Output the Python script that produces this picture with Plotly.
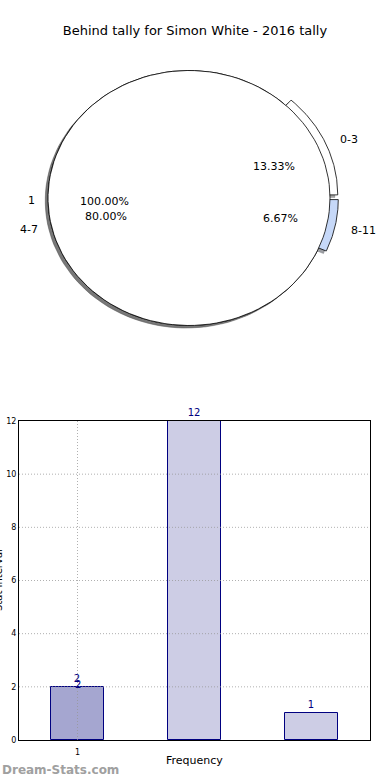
import numpy as np
import plotly.graph_objects as go

# ---------------- data ----------------
title_text = "Behind tally for Simon White - 2016 tally"

pie_labels = ["0-3", "4-7", "8-11"]
pie_values = [2, 12, 1]
pie_colors = ["#ffffff", "#ffffff", "#c6d8f8"]
pie_explode = [0.06, 0.0, 0.06]

top_labels = ["1"]
top_values = [1]
top_colors = ["#ffffff"]

bar_x = [0, 1, 2]
bar_values = [2, 12, 1]
bar_colors = ["#a5a6d0", "#cdcde5", "#cdcde5"]
bar_tick_vals = [0]
bar_tick_text = ["1"]
extra_bar_labels_x = [0]
extra_bar_labels_y = [2]

y_ticks = [0, 2, 4, 6, 8, 10, 12]

W, H = 390, 780
FONT = "DejaVu Sans"

fig = go.Figure()


def wedge_pts(t1, t2, cx, cy, r=1.0, n=120):
    t = np.radians(np.linspace(t1, t2, n))
    xs = cx + r * np.cos(t)
    ys = cy + r * np.sin(t)
    if t2 - t1 < 359.999:
        xs = np.concatenate([[cx], xs, [cx]])
        ys = np.concatenate([[cy], ys, [cy]])
    return xs, ys


def pie_geometry(values, explode):
    total = float(sum(values))
    out = []
    a = 0.0
    for v, e in zip(values, explode):
        span = 360.0 * v / total
        mid = np.radians(a + span / 2)
        cx, cy = e * np.cos(mid), e * np.sin(mid)
        out.append((a, a + span, cx, cy, mid, 100.0 * v / total))
        a += span
    return out


geo1 = pie_geometry(pie_values, pie_explode)
geo2 = pie_geometry(top_values, [0.0] * len(top_values))

common = dict(xaxis="x2", yaxis="y2", mode="lines", fill="toself",
              hoverinfo="skip", showlegend=False)


def shadow_color(hexc):
    h = hexc.lstrip("#")
    r, g, b = (int(h[i:i + 2], 16) for i in (0, 2, 4))
    return f"rgba({int(r*0.3)},{int(g*0.3)},{int(b*0.3)},0.5)"


# shadows (drawn beneath all wedges)
for (t1, t2, cx, cy, mid, pct), col in list(zip(geo1, pie_colors)) + list(zip(geo2, top_colors)):
    xs, ys = wedge_pts(t1, t2, cx - 0.02, cy - 0.02)
    sc = shadow_color(col)
    fig.add_trace(go.Scatter(x=xs, y=ys, fillcolor=sc,
                             line=dict(color=sc, width=0.5), **common))

# wedges
for (t1, t2, cx, cy, mid, pct), col in list(zip(geo1, pie_colors)) + list(zip(geo2, top_colors)):
    xs, ys = wedge_pts(t1, t2, cx, cy)
    fig.add_trace(go.Scatter(x=xs, y=ys, fillcolor=col,
                             line=dict(color="#000000", width=0.8), **common))

# pie labels
annotations = []
for geo, labels in ((geo1, pie_labels), (geo2, top_labels)):
    for (t1, t2, cx, cy, mid, pct), lab in zip(geo, labels):
        lx = cx + 1.1 * np.cos(mid)
        ly = cy + 1.1 * np.sin(mid)
        right_side = np.cos(mid) > 0
        annotations.append(dict(x=lx, y=ly, xref="x2", yref="y2", text=lab,
                                showarrow=False,
                                xanchor="left" if right_side else "right",
                                xshift=0 if right_side else 3,
                                yanchor="middle", yshift=-2,
                                font=dict(family=FONT, size=11, color="#000000")))
        px = cx + 0.6 * np.cos(mid)
        py = cy + 0.6 * np.sin(mid)
        annotations.append(dict(x=px, y=py, xref="x2", yref="y2", text=f"{pct:.2f}%",
                                showarrow=False, xanchor="center", yanchor="middle",
                                yshift=-3,
                                font=dict(family=FONT, size=11, color="#000000")))

# ---------------- bars ----------------
fig.add_trace(go.Bar(x=bar_x, y=bar_values, width=0.45,
                     marker=dict(color=bar_colors, line=dict(color="#000080", width=1)),
                     text=[str(v) for v in bar_values], textposition="outside",
                     textfont=dict(family=FONT, size=10, color="#000080"),
                     cliponaxis=False, showlegend=False, hoverinfo="skip",
                     xaxis="x", yaxis="y"))

for ex, ey in zip(extra_bar_labels_x, extra_bar_labels_y):
    annotations.append(dict(x=ex, y=ey, xref="x", yref="y", text=str(ey), showarrow=False,
                            yanchor="bottom", yshift=-5,
                            font=dict(family=FONT, size=10, color="#000080")))

# axis titles / watermark
annotations.append(dict(x=194 / W, y=1 - 760 / H, xref="paper", yref="paper", text="Frequency",
                        showarrow=False, xanchor="center", yanchor="middle",
                        font=dict(family=FONT, size=11, color="#000000")))
annotations.append(dict(x=-2 / W, y=1 - 580 / H, xref="paper", yref="paper", text="Stat Interval",
                        showarrow=False, xanchor="center", yanchor="middle", textangle=-90,
                        font=dict(family=FONT, size=10, color="#000000")))
annotations.append(dict(x=0, y=1 - 770 / H, xref="paper", yref="paper", text="<b>Dream-Stats.com</b>",
                        showarrow=False, xanchor="left", yanchor="middle",
                        font=dict(family=FONT, size=12, color="#a0a0a0")))

# grid drawn above the bars (as in the reference)
grid_style = dict(color="rgba(150,150,150,0.75)", width=1, dash="1px,2px")
shapes = []
for yt in y_ticks[1:-1]:
    shapes.append(dict(type="line", xref="x domain", yref="y", x0=0, x1=1, y0=yt, y1=yt,
                       line=grid_style, layer="above"))
for xt in bar_tick_vals:
    shapes.append(dict(type="line", xref="x", yref="y domain", x0=xt, x1=xt, y0=0, y1=1,
                       line=grid_style, layer="above"))

# pie axes geometry: 1 unit = 141 px horizontally, 127.5 px vertically, centre (189,198)
pcx, pcy, sx, sy = 189, 198, 141.0, 127.5
ptop, pbot = 40, 360

fig.update_layout(
    template="none",
    width=W, height=H, autosize=False,
    margin=dict(l=0, r=0, t=0, b=0, pad=0, autoexpand=False),
    paper_bgcolor="#ffffff", plot_bgcolor="rgba(0,0,0,0)",
    title=dict(text=title_text, x=0.5, xanchor="center", y=1 - 30 / H, yanchor="middle",
               font=dict(family=FONT, size=13, color="#000000")),
    xaxis2=dict(domain=[0, 1], range=[-pcx / sx, (W - pcx) / sx], visible=False,
                anchor="y2", fixedrange=True, automargin=False),
    yaxis2=dict(domain=[1 - pbot / H, 1 - ptop / H],
                range=[-(pbot - pcy) / sy, (pcy - ptop) / sy], visible=False,
                anchor="x2", fixedrange=True, automargin=False),
    xaxis=dict(domain=[19 / W, 370 / W], range=[-0.5, 2.5], anchor="y",
               tickvals=bar_tick_vals, ticktext=bar_tick_text,
               tickfont=dict(family=FONT, size=8, color="#000000"),
               ticklabelstandoff=4, automargin=False, showgrid=False,
               showline=True, linecolor="#000000", linewidth=1, mirror=True,
               ticks="", zeroline=False, layer="above traces"),
    yaxis=dict(domain=[1 - 740 / H, 1 - 421 / H], range=[0, 12], anchor="x",
               tickvals=y_ticks, automargin=False, showgrid=False,
               tickfont=dict(family=FONT, size=8, color="#000000"),
               showline=True, linecolor="#000000", linewidth=1, mirror=True,
               ticks="", zeroline=False, layer="above traces"),
    annotations=annotations,
    shapes=shapes,
    bargap=0,
)

fig.write_html("out.html", config={"displayModeBar": False, "responsive": False},
               post_script="document.body.style.margin='0';document.body.style.overflow='hidden';")
